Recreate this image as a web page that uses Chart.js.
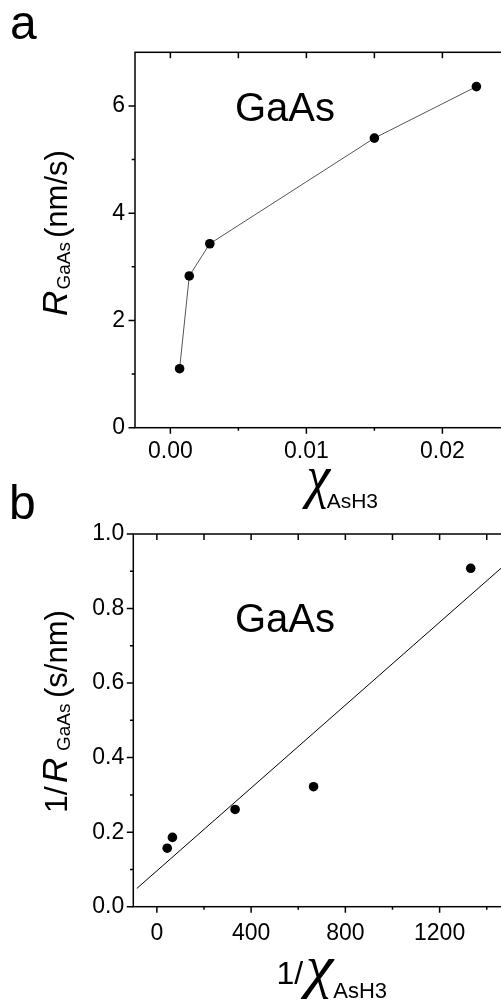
<!DOCTYPE html>
<html>
<head>
<meta charset="utf-8">
<script src="https://cdn.jsdelivr.net/npm/chart.js@4.4.1/dist/chart.umd.min.js"></script>
<style>
  html, body { margin: 0; padding: 0; background: #fff; overflow: hidden; width: 501px; height: 1005px; }
  canvas { position: absolute; left: 0; }
  #chart-a { top: 0; }
  #chart-b { top: 470px; }
</style>
</head>
<body>
<canvas id="chart-a" width="520" height="530"></canvas>
<canvas id="chart-b" width="520" height="535"></canvas>
<script>
// panel a: GaAs growth rate vs AsH3 mole fraction
const aX = [0.00068, 0.00139, 0.0029, 0.0150, 0.0225];
const aY = [1.10, 2.83, 3.43, 5.40, 6.36];
const aXTicks = [0, 0.01, 0.02];
const aXMinor = [0.005, 0.015];
const aYTicks = [0, 2, 4, 6];
const aYMinor = [1, 3, 5];

// panel b: 1/R vs 1/x with the straight fit
const bX = [44, 66, 332, 665, 1332];
const bY = [0.157, 0.186, 0.261, 0.322, 0.908];
const bFitX = [-85, 1500];
const bFitY = [0.049, 0.930];
const bXTicks = [0, 400, 800, 1200];
const bXMinor = [200, 600, 1000, 1400];
const bYTicks = [0, 0.2, 0.4, 0.6, 0.8, 1.0];
const bYMinor = [0.1, 0.3, 0.5, 0.7, 0.9];

const SANS = '"Liberation Sans", Arial, sans-serif';
const SERIF = '"Liberation Serif", "Times New Roman", serif';

const pts = (xs, ys) => xs.map((x, i) => ({ x, y: ys[i] }));

function drawText(ctx, t) {
  ctx.save();
  ctx.translate(t.x, t.y);
  if (t.rot) ctx.rotate(-Math.PI / 2);
  ctx.textBaseline = 'alphabetic';
  ctx.textAlign = 'left';
  t.parts.forEach(([s, font, along, dy]) => {
    ctx.font = font;
    ctx.fillText(s, along || 0, dy || 0);
  });
  ctx.restore();
}

// squeeze a single glyph into a given box (the chi in the x titles)
function drawGlyph(ctx, g) {
  ctx.save();
  ctx.font = g.font;
  ctx.textBaseline = 'alphabetic';
  ctx.textAlign = 'left';
  const m = ctx.measureText(g.glyph);
  const w = m.actualBoundingBoxLeft + m.actualBoundingBoxRight;
  const h = m.actualBoundingBoxAscent + m.actualBoundingBoxDescent;
  const [x0, y0, x1, y1] = g.box;
  const sx = (x1 - x0) / w, sy = (y1 - y0) / h;
  ctx.translate(x0 + m.actualBoundingBoxLeft * sx, y0 + m.actualBoundingBoxAscent * sy);
  ctx.scale(sx, sy);
  ctx.fillText(g.glyph, 0, 0);
  ctx.restore();
}

function framePlugin(cfg) {
  return {
    id: 'frame',
    afterDraw(chart) {
      const { ctx, chartArea: a, scales: { x, y } } = chart;
      ctx.save();
      ctx.strokeStyle = '#000';
      ctx.lineWidth = 1.5;
      ctx.strokeRect(a.left, a.top, a.right - a.left, a.bottom - a.top);
      ctx.beginPath();
      // bottom and left ticks point out, top and right ones point in
      const tickX = (vals, len) => vals.forEach(v => {
        const p = x.getPixelForValue(v);
        ctx.moveTo(p, a.bottom); ctx.lineTo(p, a.bottom + len);
        ctx.moveTo(p, a.top); ctx.lineTo(p, a.top + 6);
      });
      const tickY = (vals, len) => vals.forEach(v => {
        const p = y.getPixelForValue(v);
        ctx.moveTo(a.left, p); ctx.lineTo(a.left - len, p);
        ctx.moveTo(a.right, p); ctx.lineTo(a.right - 6, p);
      });
      tickX(cfg.xMajor, 6);
      tickX(cfg.xMinor, 3);
      tickY(cfg.yMajor, 6.5);
      tickY(cfg.yMinor, 3.3);
      ctx.stroke();

      // text is given in page coordinates
      ctx.translate(0, -cfg.top);
      ctx.fillStyle = '#000';
      cfg.texts.forEach(t => drawText(ctx, t));
      cfg.glyphs.forEach(g => drawGlyph(ctx, g));
      ctx.restore();
    }
  };
}

function axis(min, max, ticks, fmt, size, pad) {
  return {
    type: 'linear',
    min, max,
    grid: { display: false, drawTicks: false },
    border: { display: false },
    afterBuildTicks: s => { s.ticks = ticks.map(v => ({ value: v })); },
    afterFit: s => { if (s.isHorizontal()) s.height = size; else s.width = size; },
    ticks: { color: '#000', padding: pad, font: { family: SANS, size: 23 }, callback: fmt }
  };
}

const base = {
  responsive: false,
  animation: false,
  devicePixelRatio: 1,
  events: [],
  plugins: { legend: { display: false }, tooltip: { enabled: false } }
};

new Chart(document.getElementById('chart-a'), {
  type: 'scatter',
  data: {
    datasets: [{
      data: pts(aX, aY),
      showLine: true,
      borderColor: '#555',
      borderWidth: 1,
      pointRadius: 4.8,
      pointBackgroundColor: '#000',
      pointBorderWidth: 0
    }]
  },
  options: {
    ...base,
    layout: { padding: { left: 0, top: 52.3, right: 520 - 510.4, bottom: 0 } },
    scales: {
      x: axis(-0.0026, 0.025, aXTicks, v => v.toFixed(2), 530 - 427.7, 10),
      y: axis(0, 7, aYTicks, v => String(v), 135, 10)
    }
  },
  plugins: [framePlugin({
    top: 0,
    xMajor: aXTicks, xMinor: aXMinor, yMajor: aYTicks, yMinor: aYMinor,
    texts: [
      { x: 10, y: 39.3, parts: [['a', `48px ${SANS}`]] },
      { x: 235, y: 121, parts: [['GaAs', `40px ${SANS}`]] },
      { x: 66.7, y: 315, rot: true, parts: [
        ['R', `italic 35px ${SANS}`, -1],
        ['GaAs', `19px ${SANS}`, 25.5, 3.3],
        ['(nm/s)', `31px ${SANS}`, 77]
      ] },
      { x: 326.7, y: 508.3, parts: [['AsH3', `21px ${SANS}`]] }
    ],
    glyphs: [{ glyph: 'χ', font: `italic 100px ${SERIF}`, box: [301.7, 468.3, 331.7, 508.3] }]
  })]
});

new Chart(document.getElementById('chart-b'), {
  type: 'scatter',
  data: {
    datasets: [
      {
        data: pts(bX, bY),
        pointRadius: 4.8,
        pointBackgroundColor: '#000',
        pointBorderWidth: 0
      },
      {
        data: pts(bFitX, bFitY),
        showLine: true,
        borderColor: '#000',
        borderWidth: 1,
        pointRadius: 0
      }
    ]
  },
  options: {
    ...base,
    layout: { padding: { left: 0, top: 64, right: 520 - 510.3, bottom: 0 } },
    scales: {
      x: axis(-100, 1500, bXTicks, v => String(v), 535 - 436.7, 13),
      y: axis(0, 1, bYTicks, v => v.toFixed(1), 133.3, 9)
    }
  },
  plugins: [framePlugin({
    top: 470,
    xMajor: bXTicks, xMinor: bXMinor, yMajor: bYTicks, yMinor: bYMinor,
    texts: [
      { x: 9, y: 519.3, parts: [['b', `48px ${SANS}`]] },
      { x: 235, y: 631.5, parts: [['GaAs', `40px ${SANS}`]] },
      { x: 67, y: 810, rot: true, parts: [
        ['1/', `32px ${SANS}`, -3],
        ['R', `italic 35px ${SANS}`, 27],
        ['GaAs', `19px ${SANS}`, 59, 3.3],
        ['(s/nm)', `31px ${SANS}`, 112]
      ] },
      { x: 276.5, y: 984.3, parts: [['1/', `32px ${SANS}`]] },
      { x: 333.3, y: 998.3, parts: [['AsH3', `22px ${SANS}`]] }
    ],
    glyphs: [{ glyph: 'χ', font: `italic 100px ${SERIF}`, box: [300, 958.3, 335, 998.3] }]
  })]
});
</script>
</body>
</html>
